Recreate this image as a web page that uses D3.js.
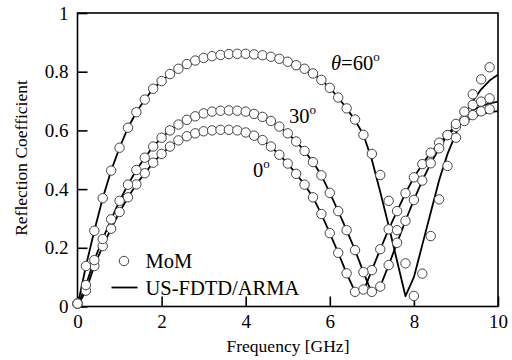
<!DOCTYPE html>
<html>
<head>
<meta charset="utf-8">
<script src="https://cdn.jsdelivr.net/npm/d3@7/dist/d3.min.js"></script>
<style>
  html, body { margin: 0; padding: 0; background: #fff; }
  svg { display: block; }
  text { font-family: "Liberation Serif", "Times New Roman", serif; fill: #000; }
</style>
</head>
<body>
<svg id="chart" width="512" height="360"></svg>
<script>
// ---------- data ----------
const freqLine = [0,0.2,0.4,0.6,0.8,1.0,1.2,1.4,1.6,1.8,2.0,2.2,2.4,2.6,2.8,3.0,3.2,3.4,3.6,3.8,4.0,4.2,4.4,4.6,4.8,5.0,5.2,5.4,5.6,5.8,6.0,6.2,6.4,6.6,6.8,7.0,7.2,7.4,7.6,7.8,8.0,8.2,8.4,8.6,8.8,9.0,9.2,9.4,9.6,9.8,10.0];
const freqMoM  = [0,0.2,0.4,0.6,0.8,1.0,1.2,1.4,1.6,1.8,2.0,2.2,2.4,2.6,2.8,3.0,3.2,3.4,3.6,3.8,4.0,4.2,4.4,4.6,4.8,5.0,5.2,5.4,5.6,5.8,6.0,6.2,6.4,6.6,6.8,7.0,7.2,7.4,7.6,7.8,8.0,8.2,8.4,8.6,8.8,9.0,9.2,9.4,9.6,9.8];

// MoM (circles)
const mom0  = [0.01,0.054,0.138,0.206,0.265,0.322,0.372,0.416,0.454,0.49,0.52,0.545,0.566,0.58,0.59,0.597,0.6,0.602,0.602,0.6,0.593,0.582,0.567,0.545,0.517,0.487,0.452,0.415,0.372,0.315,0.25,0.183,0.113,0.05,0.058,0.124,0.195,0.263,0.325,0.386,0.44,0.485,0.524,0.558,0.584,0.612,0.637,0.652,0.665,0.672];
const mom30 = [0.01,0.073,0.158,0.23,0.297,0.36,0.415,0.465,0.507,0.545,0.575,0.6,0.62,0.636,0.648,0.658,0.664,0.667,0.668,0.667,0.664,0.656,0.646,0.632,0.613,0.59,0.562,0.53,0.492,0.447,0.387,0.325,0.26,0.192,0.117,0.05,0.068,0.141,0.217,0.292,0.363,0.429,0.488,0.539,0.584,0.622,0.664,0.687,0.698,0.709];
const mom60 = [0.01,0.138,0.258,0.369,0.463,0.541,0.609,0.662,0.705,0.742,0.768,0.792,0.81,0.826,0.838,0.847,0.853,0.857,0.86,0.861,0.861,0.859,0.856,0.851,0.844,0.834,0.822,0.81,0.794,0.772,0.745,0.712,0.675,0.637,0.585,0.52,0.448,0.36,0.26,0.147,0.036,0.112,0.24,0.365,0.479,0.575,0.632,0.723,0.774,0.815];

// US-FDTD/ARMA (lines)
const fdtd0  = [0,0.054,0.138,0.206,0.265,0.322,0.372,0.416,0.454,0.49,0.52,0.545,0.566,0.58,0.59,0.597,0.6,0.602,0.602,0.6,0.593,0.582,0.567,0.545,0.517,0.487,0.452,0.415,0.372,0.315,0.25,0.183,0.113,0.05,0.052,0.124,0.195,0.263,0.325,0.386,0.44,0.485,0.524,0.558,0.584,0.61,0.63,0.645,0.655,0.662,0.666];
const fdtd30 = [0,0.073,0.158,0.23,0.297,0.36,0.415,0.465,0.507,0.545,0.575,0.6,0.62,0.636,0.648,0.658,0.664,0.667,0.668,0.667,0.664,0.656,0.646,0.632,0.613,0.59,0.562,0.53,0.492,0.447,0.387,0.325,0.26,0.192,0.117,0.045,0.068,0.141,0.217,0.292,0.363,0.429,0.488,0.539,0.584,0.622,0.65,0.669,0.683,0.692,0.698];
const fdtd60 = [0,0.138,0.258,0.369,0.463,0.541,0.609,0.662,0.705,0.742,0.768,0.792,0.81,0.826,0.838,0.847,0.853,0.857,0.86,0.861,0.861,0.859,0.856,0.851,0.844,0.834,0.822,0.81,0.794,0.772,0.745,0.712,0.675,0.635,0.585,0.5,0.39,0.275,0.155,0.035,0.1,0.21,0.32,0.43,0.52,0.59,0.65,0.7,0.74,0.77,0.79];

const xTicks = [0,2,4,6,8,10];
const xMinor = [0.5,1,1.5,2.5,3,3.5,4.5,5,5.5,6.5,7,7.5,8.5,9,9.5];
const yTicks = [0,0.2,0.4,0.6,0.8,1];
const yMinor = [0.05,0.1,0.15,0.25,0.3,0.35,0.45,0.5,0.55,0.65,0.7,0.75,0.85,0.9,0.95];

const xTitle = "Frequency [GHz]";
const yTitle = "Reflection Coefficient";
const legendLabels = ["MoM", "US-FDTD/ARMA"];

// ---------- chart ----------
const svg = d3.select("#chart");
const L = 77.5, R = 498, T = 13, B = 306.5;
const x = d3.scaleLinear().domain([0, 10]).range([L, R]);
const y = d3.scaleLinear().domain([0, 1]).range([B, T]);
const FS = 19;
const LBL = 20.5;

// axes
const gx = svg.append("g").attr("transform", `translate(0,${B})`);
gx.call(d3.axisBottom(x).tickValues(xMinor).tickSize(-5).tickFormat(""));
gx.call(d3.axisBottom(x).tickValues(xTicks).tickSize(-10).tickPadding(8).tickFormat(d => String(d)));
const gy = svg.append("g").attr("transform", `translate(${L},0)`);
gy.call(d3.axisLeft(y).tickValues(yMinor).tickSize(-5).tickFormat(""));
gy.call(d3.axisLeft(y).tickValues(yTicks).tickSize(-10).tickPadding(9).tickFormat(d => String(+d.toFixed(1))));
svg.selectAll(".domain").remove();
svg.selectAll(".tick line").attr("stroke", "#000").attr("stroke-width", 1.6);
svg.selectAll(".tick text").style("font-family", '"Liberation Serif", serif').style("font-size", FS + "px").attr("fill", "#000");

// frame
svg.append("rect").attr("x", L).attr("y", T).attr("width", R - L).attr("height", B - T)
  .attr("fill", "none").attr("stroke", "#000").attr("stroke-width", 1.6);

// lines
const line = d3.line().x((d, i) => x(freqLine[i])).y(d => y(d));
[fdtd0, fdtd30, fdtd60].forEach(s => {
  svg.append("path").datum(s).attr("d", line).attr("fill", "none")
    .attr("stroke", "#000").attr("stroke-width", 1.8).attr("stroke-linejoin", "round");
});

// circles
[mom0, mom30, mom60].forEach(s => {
  svg.append("g").selectAll("circle").data(s).join("circle")
    .attr("cx", (d, i) => x(freqMoM[i])).attr("cy", d => y(d)).attr("r", 4.7)
    .attr("fill", "#fff").attr("stroke", "#444").attr("stroke-width", 1);
});

// curve labels
const t60 = svg.append("text").attr("x", 331).attr("y", 70).style("font-size", LBL + "px");
t60.append("tspan").style("font-style", "italic").text("θ");
t60.append("tspan").text("=60");
t60.append("tspan").attr("dy", -9).style("font-size", "13px").text("o");

const t30 = svg.append("text").attr("x", 289).attr("y", 123).style("font-size", LBL + "px");
t30.append("tspan").text("30");
t30.append("tspan").attr("dy", -9).style("font-size", "13px").text("o");

const t0 = svg.append("text").attr("x", 253).attr("y", 177).style("font-size", LBL + "px");
t0.append("tspan").text("0");
t0.append("tspan").attr("dy", -9).style("font-size", "13px").text("o");

// legend
svg.append("circle").attr("cx", 124).attr("cy", 261).attr("r", 4.7)
  .attr("fill", "#fff").attr("stroke", "#444").attr("stroke-width", 1);
svg.append("text").attr("x", 145.5).attr("y", 267.5).style("font-size", LBL + "px").text(legendLabels[0]);
svg.append("line").attr("x1", 111.5).attr("x2", 137.5).attr("y1", 287.5).attr("y2", 287.5)
  .attr("stroke", "#000").attr("stroke-width", 1.8);
svg.append("text").attr("x", 145.5).attr("y", 294.5).style("font-size", LBL + "px").text(legendLabels[1]);

// axis titles
svg.append("text").attr("x", 288).attr("y", 352).attr("text-anchor", "middle")
  .style("font-size", "17.5px").text(xTitle);
svg.append("text").attr("transform", "translate(27,158) rotate(-90)").attr("text-anchor", "middle")
  .style("font-size", "17.5px").text(yTitle);
</script>
</body>
</html>
